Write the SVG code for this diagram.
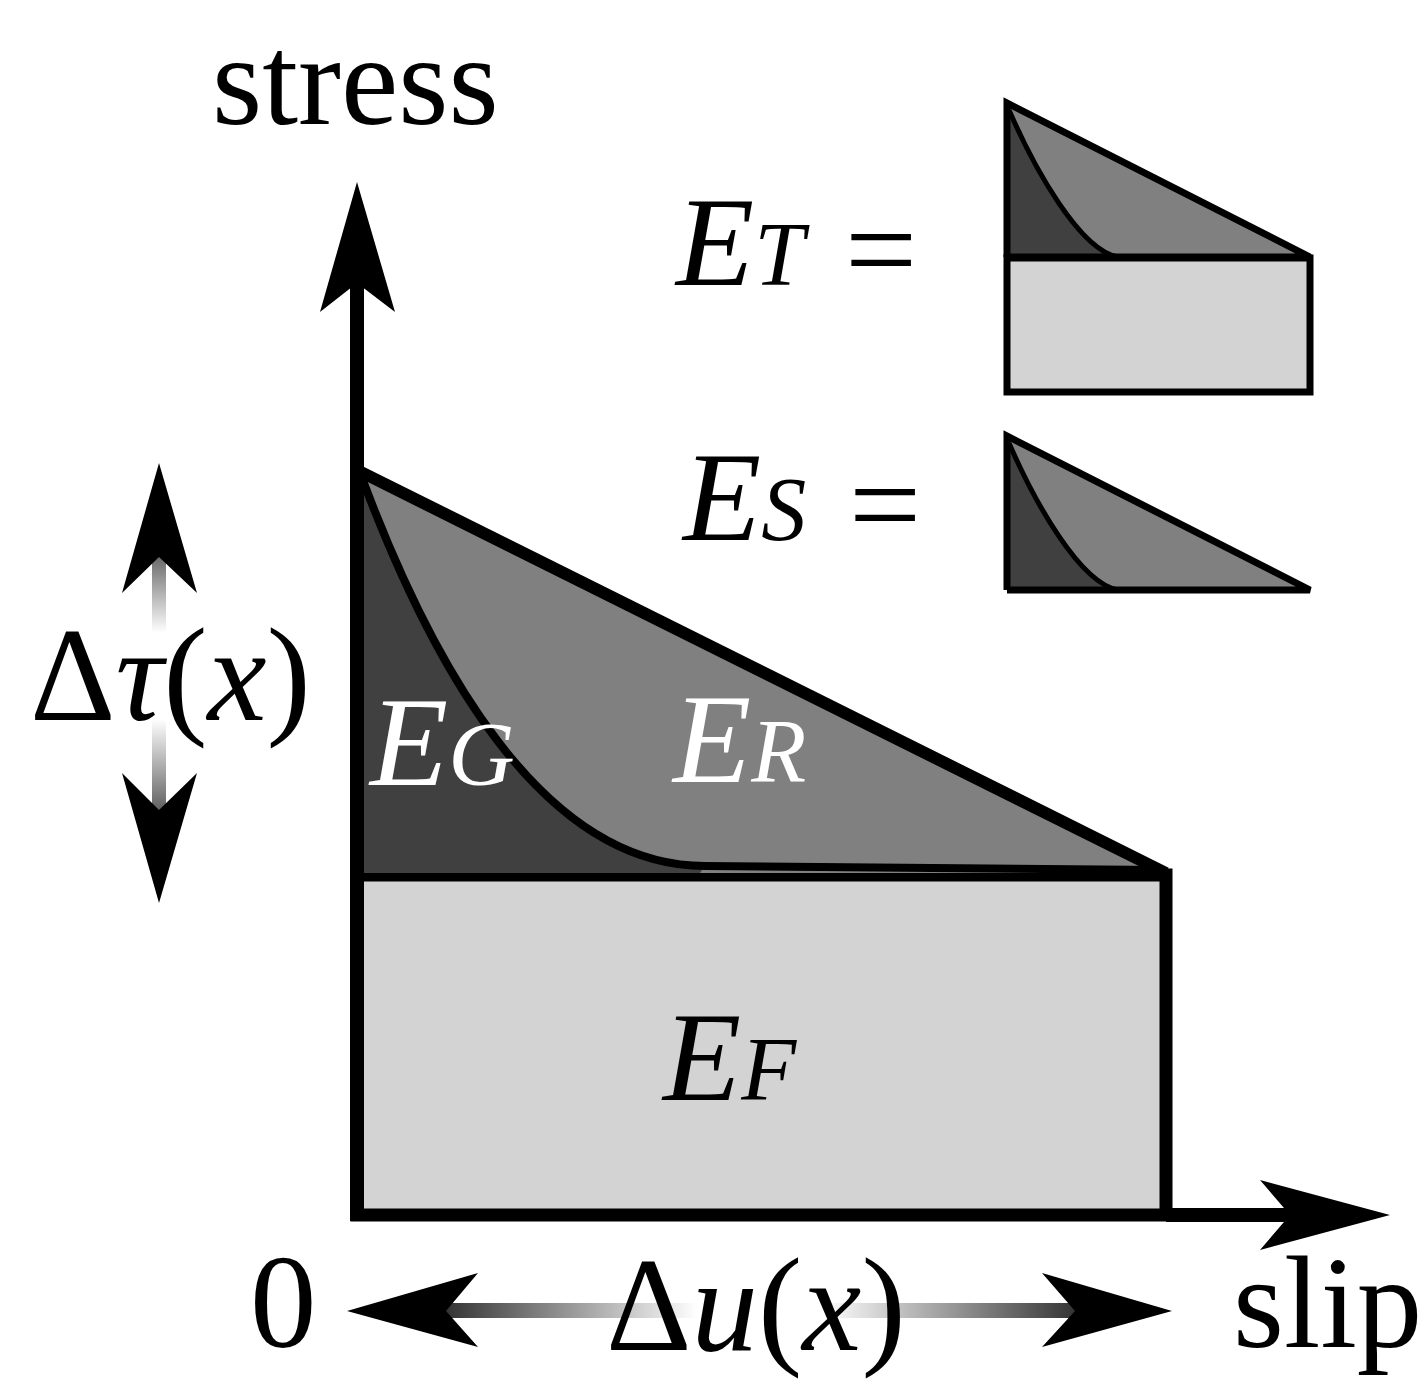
<svg xmlns="http://www.w3.org/2000/svg" width="1424" height="1382" viewBox="0 0 1424 1382">
<style>
  .t { font-family: "Liberation Serif", "Times New Roman", serif; fill: #000; }
  .i { font-style: italic; }
  .w { fill: #fff; }
  .ef { fill: #d3d3d3; }
  .er { fill: #808080; }
  .eg { fill: #404040; }
  .ln { fill: none; stroke: #000; stroke-linejoin: miter; }
</style>
<defs>
  <linearGradient id="gv" gradientUnits="userSpaceOnUse" x1="0" y1="557" x2="0" y2="810">
    <stop offset="0" stop-color="#6a6a6a"/>
    <stop offset="0.3" stop-color="#ffffff"/>
    <stop offset="0.64" stop-color="#ffffff"/>
    <stop offset="1" stop-color="#606060"/>
  </linearGradient>
  <linearGradient id="gh" gradientUnits="userSpaceOnUse" x1="445" y1="0" x2="1076" y2="0">
    <stop offset="0" stop-color="#333333"/>
    <stop offset="0.4" stop-color="#ffffff"/>
    <stop offset="0.6" stop-color="#ffffff"/>
    <stop offset="1" stop-color="#333333"/>
  </linearGradient>
  <g id="inset">
    <polygon class="er" points="1007,103 1310,257 1007,257"/>
    <path class="eg" d="M1008,106 C1035,170 1080,250 1118,257 L1007,257 Z"/>
    <path class="ln" stroke-width="5" d="M1009,110 C1035,170 1080,250 1118,257 L1308,257"/>
    <polyline class="ln" stroke-width="7" points="1007,257 1007,103 1310,257 1007,257"/>
  </g>
</defs>

<g id="region-EF">
  <rect class="ef ln" x="357" y="875" width="809" height="340" stroke-width="13" style="fill:#d3d3d3"/>
</g>
<g id="region-ER">
  <polygon class="er" points="357,470 1166,873 357,873"/>
</g>
<g id="region-EG">
  <path class="eg" d="M360,474 C430,660 540,866 705,866 L700,873 L357,873 Z"/>
  <path class="ln" stroke-width="8" d="M362,478 C430,660 540,866 705,866 L1160,870"/>
</g>
<g id="slope-line">
  <polyline class="ln" stroke-width="12" points="357,470 1166,873"/>
</g>

<g id="connectors">
  <line x1="357" y1="1221" x2="357" y2="280" stroke="#000" stroke-width="14"/>
  <polygon points="357,182 395,312 357,283 320,312" fill="#000"/>
  <line x1="1166" y1="1215" x2="1292" y2="1215" stroke="#000" stroke-width="14"/>
  <polygon points="1390,1215 1260,1180 1290,1215 1260,1250" fill="#000"/>
  <rect x="152" y="555" width="14" height="257" fill="url(#gv)"/>
  <polygon points="159,463 197,593 159,557 122,593" fill="#000"/>
  <polygon points="159,903 197,773 159,810 122,773" fill="#000"/>
  <rect x="443" y="1303" width="635" height="15" fill="url(#gh)"/>
  <polygon points="347,1311 478,1273 446,1311 478,1347" fill="#000"/>
  <polygon points="1172,1311 1042,1273 1075,1311 1042,1347" fill="#000"/>
</g>

<g id="inset-ET">
  <rect class="ef ln" x="1007" y="258" width="303" height="134" stroke-width="7" style="fill:#d3d3d3"/>
  <use href="#inset"/>
</g>
<g id="inset-ES">
  <use href="#inset" transform="translate(0,333)"/>
</g>

<g id="labels">
  <text class="t" x="212" y="124" font-size="129">stress</text>
  <text class="t i" x="676" y="285" font-size="128">E<tspan font-size="90">T</tspan></text>
  <text class="t" x="845" y="292" font-size="128">=</text>
  <text class="t i" x="683" y="540" font-size="128">E<tspan font-size="90">S</tspan></text>
  <text class="t" x="849" y="547" font-size="128">=</text>
  <text class="t i w" x="370" y="785" font-size="128">E<tspan font-size="92">G</tspan></text>
  <text class="t i w" x="673" y="782" font-size="128">E<tspan font-size="90">R</tspan></text>
  <text class="t i" x="663" y="1100" font-size="128">E<tspan font-size="90">F</tspan></text>
  <text class="t" x="30" y="720" font-size="133">Δ<tspan class="i">τ</tspan>(<tspan class="i">x</tspan>)</text>
  <text class="t" x="606" y="1350" font-size="133">Δ<tspan class="i">u</tspan>(<tspan class="i">x</tspan>)</text>
  <text class="t" x="250" y="1347" font-size="133">0</text>
  <text class="t" x="1233" y="1347" font-size="131">slip</text>
</g>
</svg>
